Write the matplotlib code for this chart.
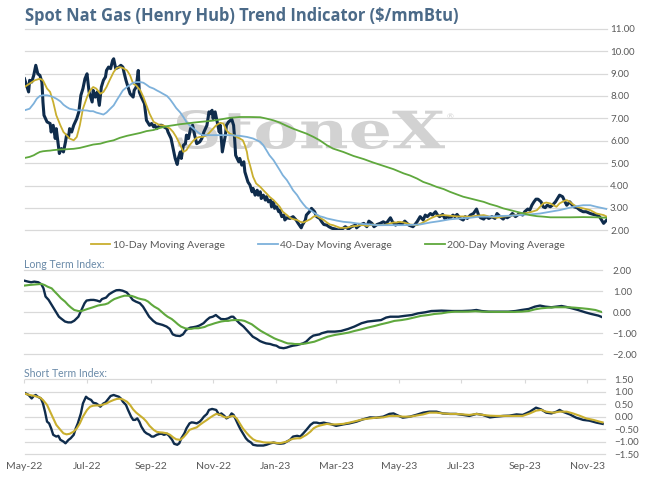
import pandas as pd
import matplotlib
matplotlib.use("Agg")
import matplotlib.pyplot as plt
import matplotlib.dates as mdates
from matplotlib.ticker import StrMethodFormatter
from matplotlib.textpath import TextPath
from matplotlib.patches import PathPatch
from matplotlib.font_manager import FontProperties
from matplotlib.transforms import Affine2D

plt.rcParams["font.family"] = ["Lato", "DejaVu Sans"]

# x values are days counted from 1 May 2022
START = pd.Timestamp("2022-05-01")

# --- top panel: spot price and moving averages ($/mmBtu) ---
spot_days = [0, 4, 5, 7, 9, 11, 13, 15, 17, 18, 19, 22, 25, 26, 28, 30, 31, 34, 36, 38,
             40, 41, 43, 44, 46, 48, 51, 53, 55, 57, 59, 61, 63, 66, 67, 69, 71, 73, 75, 77,
             79, 80, 82, 84, 86, 87, 89, 92, 94, 96, 97, 99, 101, 103, 106, 107, 109, 111, 112, 114,
             117, 119, 120, 122, 124, 126, 127, 129, 132, 134, 136, 139, 140, 143, 145, 147, 149, 150, 152, 153,
             155, 157, 158, 160, 162, 164, 166, 168, 171, 173, 175, 178, 180,
             181, 183, 184, 186, 188, 190, 191, 193, 196, 197, 199, 201, 202, 204, 205, 206, 209, 210, 212, 214,
             215, 217, 218, 220, 222, 223, 225, 227, 228, 230, 231, 233, 235, 236, 238, 240, 241, 243, 244, 246,
             248, 249, 251, 253, 254, 256, 259, 262, 265, 267, 270, 271, 274, 275, 278, 280, 283, 285, 288, 290,
             292, 295, 297, 300, 303, 306, 310, 313, 316, 319, 323, 324, 327, 331, 334, 336, 339, 341, 344, 347,
             350, 353, 357, 359, 362, 365, 368, 371, 375,
             379, 381, 383, 386, 389, 391, 393, 396, 398, 401, 403, 405, 408, 410, 413, 415, 418, 420, 422, 425,
             428, 430, 432, 435, 438, 441, 443, 445, 448, 450, 453, 456, 459, 461, 464, 467, 469, 471, 474, 476,
             479, 481, 483, 486, 488, 491, 493, 495, 497, 499, 501, 504, 506, 508, 510, 513, 515, 518, 520, 522,
             525, 527, 529, 532, 534, 536, 539, 542, 545, 548, 552, 555, 558, 561, 563, 565, 568]
spot_vals = [8.77, 8.18, 8.70, 8.62, 8.92, 9.37, 8.99, 8.92, 8.62, 7.73, 7.14, 6.84, 6.77, 6.39, 6.69, 6.10, 6.54, 5.43, 5.65, 5.50,
             5.95, 6.25, 6.17, 6.54, 6.39, 6.69, 6.99, 7.29, 8.03, 8.33, 8.77, 8.99, 8.18, 7.73, 8.25, 7.95, 8.18, 7.58, 8.40, 8.70,
             8.85, 9.14, 9.29, 9.22, 9.59, 9.66, 9.22, 9.29, 9.37, 9.29, 9.07, 8.70, 8.40, 8.10, 7.95, 8.25, 8.40, 9.14, 8.18, 7.95,
             7.66, 6.91, 6.84, 6.69, 6.77, 6.62, 6.69, 6.54, 6.69, 6.69, 6.62, 6.54, 6.39, 6.10, 5.65, 5.21, 4.94, 5.21, 5.50, 5.21,
             5.80, 5.87, 6.25, 6.10, 6.54, 6.69, 6.25, 5.87, 5.95, 6.10, 6.39, 6.69, 7.29,
             7.21, 7.36, 6.99, 7.29, 6.84, 6.39, 6.69, 5.50, 6.25, 6.69, 6.84, 6.91, 6.99, 6.69, 6.10, 5.35, 5.06, 5.21, 4.91, 5.06,
             4.61, 4.31, 4.16, 4.02, 3.72, 3.87, 3.57, 3.79, 3.57, 3.72, 3.42, 3.57, 3.35, 3.50, 3.27, 3.35, 3.05, 3.27, 2.98, 3.05,
             2.83, 2.90, 2.61, 2.68, 2.46, 2.56, 2.53, 2.61, 2.46, 2.31, 2.11, 2.23, 2.46, 2.68, 2.83, 2.98, 2.83, 2.61, 2.53, 2.38,
             2.26, 2.23, 2.16, 2.09, 2.06, 2.01, 2.06, 2.16, 2.06, 2.16, 2.23, 2.11, 2.23, 2.31, 2.16, 2.41, 2.31, 2.16, 2.26, 2.31,
             2.38, 2.31, 2.56, 2.38, 2.23, 2.35, 2.26, 2.41, 2.23,
             2.16, 2.26, 2.38, 2.61, 2.46, 2.68, 2.61, 2.75, 2.68, 2.83, 2.68, 2.61, 2.71, 2.53, 2.61, 2.53, 2.68, 2.61, 2.71, 2.53,
             2.46, 2.61, 2.53, 2.68, 2.75, 2.95, 2.68, 2.56, 2.50, 2.61, 2.53, 2.61, 2.53, 2.75, 2.61, 2.50, 2.61, 2.56, 2.65, 2.75,
             2.61, 2.68, 2.75, 2.68, 2.83, 2.95, 2.90, 3.12, 3.27, 3.39, 3.39, 3.27, 3.05, 3.01, 3.12, 3.05, 3.12, 3.27, 3.42, 3.57,
             3.50, 3.30, 3.12, 3.27, 3.15, 3.05, 3.01, 2.90, 2.83, 2.83, 2.75, 2.71, 2.68, 2.61, 2.46, 2.31, 2.46]

ma10_days = [0, 5, 10, 15, 18, 22, 25, 28, 31, 35, 38, 41, 44, 48, 51, 54, 57, 61, 64, 67,
             70, 74, 77, 80, 83, 87, 90, 93, 96, 100, 103, 106, 109, 113, 116, 119, 122, 126, 129, 132,
             135, 139, 142, 145, 148, 152, 155, 158, 161, 165, 168, 171, 174, 178, 181, 184, 187, 191, 194, 197,
             200, 204, 207, 210, 213, 215, 217, 218, 220, 223, 226, 230, 233, 236, 239, 243, 246, 249, 252, 256,
             259, 262, 266, 269, 272, 275, 279, 282, 285, 288, 292, 295, 298, 301, 305, 308, 311, 314, 318, 321,
             324, 327, 331, 334, 337, 340, 344, 347, 350, 353, 357, 360, 363, 366, 370, 373, 376, 383, 389, 396,
             402, 409, 415, 422, 428, 435, 441, 448, 454, 461, 467, 474, 480, 487, 493, 500, 503, 506, 509, 513,
             516, 519, 522, 526, 529, 532, 535, 539, 542, 545, 552, 558, 565, 568]
ma10_vals = [8.40, 8.55, 8.70, 8.77, 8.70, 8.33, 8.18, 7.73, 7.14, 6.69, 6.39, 6.25, 6.10, 6.02, 6.17, 6.69, 7.43, 7.95, 8.25, 8.40,
             8.33, 8.10, 8.18, 8.40, 8.70, 9.07, 9.25, 9.29, 9.25, 9.14, 8.92, 8.55, 8.47, 8.25, 7.95, 7.58, 7.21, 6.84, 6.77, 6.69,
             6.69, 6.62, 6.54, 6.39, 6.17, 5.80, 5.50, 5.58, 5.80, 6.02, 6.13, 6.17, 6.17, 6.25, 6.39, 6.54, 6.69, 6.80, 6.77, 6.47,
             6.32, 6.25, 6.17, 6.10, 6.02, 5.80, 5.50, 5.21, 4.91, 4.39, 4.09, 3.94, 3.79, 3.65, 3.50, 3.35, 3.20, 3.05, 2.83, 2.68,
             2.56, 2.50, 2.46, 2.38, 2.35, 2.41, 2.50, 2.61, 2.65, 2.56, 2.46, 2.35, 2.26, 2.23, 2.16, 2.11, 2.11, 2.11, 2.16, 2.19,
             2.19, 2.23, 2.23, 2.19, 2.23, 2.26, 2.23, 2.23, 2.23, 2.26, 2.31, 2.35, 2.35, 2.38, 2.35, 2.31, 2.26, 2.23, 2.35, 2.53,
             2.65, 2.68, 2.65, 2.62, 2.62, 2.61, 2.65, 2.68, 2.61, 2.56, 2.61, 2.65, 2.68, 2.75, 2.80, 2.90, 3.05, 3.20, 3.24, 3.20,
             3.12, 3.05, 3.20, 3.30, 3.35, 3.27, 3.16, 3.05, 3.01, 2.98, 2.90, 2.75, 2.68, 2.61]

ma40_days = [0, 5, 9, 12, 15, 18, 22, 25, 28, 31, 35, 38, 41, 44, 48, 51, 57, 61, 64, 67,
             70, 74, 77, 80, 83, 87, 90, 93, 96, 100, 103, 106, 109, 113, 116, 119, 122, 126, 129, 132,
             135, 139, 142, 145, 148, 152, 155, 158, 161, 165, 168, 171, 174, 181, 191, 200, 210, 217, 223, 230,
             233, 236, 239, 243, 246, 249, 252, 256, 259, 262, 266, 269, 272, 275, 279, 282, 285, 288, 292, 295,
             298, 305, 311, 318, 324, 331, 337, 344, 357, 370, 376, 386, 396, 405, 415, 425, 435, 444, 454, 464,
             474, 483, 493, 503, 513, 522, 532, 539, 545, 552, 558, 565, 568]
ma40_vals = [7.36, 7.43, 7.66, 7.88, 8.00, 8.03, 8.03, 8.00, 7.95, 7.88, 7.76, 7.61, 7.51, 7.43, 7.39, 7.36, 7.36, 7.35, 7.32, 7.32,
             7.26, 7.21, 7.17, 7.26, 7.40, 7.58, 7.81, 8.03, 8.25, 8.40, 8.50, 8.59, 8.62, 8.62, 8.59, 8.50, 8.40, 8.33, 8.25, 8.18,
             8.10, 8.00, 7.85, 7.66, 7.46, 7.26, 7.06, 6.84, 6.69, 6.54, 6.42, 6.32, 6.25, 6.25, 6.25, 6.25, 6.22, 6.17, 6.10, 5.95,
             5.80, 5.58, 5.35, 5.13, 4.91, 4.69, 4.46, 4.24, 4.02, 3.79, 3.57, 3.35, 3.17, 3.01, 2.90, 2.80, 2.71, 2.63, 2.58, 2.53,
             2.50, 2.43, 2.38, 2.35, 2.31, 2.28, 2.26, 2.23, 2.23, 2.23, 2.24, 2.26, 2.35, 2.41, 2.49, 2.53, 2.56, 2.61, 2.61, 2.64,
             2.65, 2.68, 2.71, 2.75, 2.83, 2.90, 3.01, 3.08, 3.12, 3.12, 3.05, 2.98, 2.95]

ma200_days = [0, 5, 9, 12, 15, 18, 22, 25, 28, 35, 41, 48, 54, 61, 67, 74, 80, 87, 93, 100,
              106, 113, 119, 126, 132, 139, 145, 152, 158, 165, 171, 178, 184, 191, 200, 210, 220, 230, 236, 243,
              249, 256, 262, 269, 275, 282, 288, 295, 301, 311, 321, 331, 340, 350, 360, 370, 376, 383, 389, 396,
              402, 409, 415, 422, 428, 435, 441, 448, 454, 461, 467, 474, 480, 487, 493, 500, 506, 513, 519, 532,
              545, 558, 568]
ma200_vals = [5.23, 5.28, 5.35, 5.43, 5.50, 5.53, 5.55, 5.56, 5.58, 5.61, 5.62, 5.64, 5.68, 5.76, 5.83, 5.87, 5.95, 6.02, 6.13, 6.22,
              6.28, 6.35, 6.43, 6.48, 6.57, 6.65, 6.69, 6.74, 6.77, 6.81, 6.84, 6.87, 6.90, 6.95, 7.02, 7.06, 7.06, 7.05, 6.99, 6.91,
              6.81, 6.66, 6.54, 6.42, 6.32, 6.17, 6.02, 5.80, 5.65, 5.50, 5.32, 5.18, 5.03, 4.88, 4.73, 4.54, 4.45, 4.31, 4.16, 4.05,
              3.94, 3.84, 3.72, 3.60, 3.50, 3.42, 3.35, 3.27, 3.17, 3.08, 2.98, 2.90, 2.83, 2.75, 2.68, 2.63, 2.61, 2.58, 2.58, 2.58,
              2.59, 2.58, 2.56]

# --- middle panel: long term index ---
lt_days = [0, 4, 7, 10, 14, 17, 19, 21, 24, 27, 29, 31, 34, 36, 40, 43, 46, 49, 53, 56,
           59, 61, 65, 68, 71, 74, 76, 80, 83, 87, 90, 93, 96, 100, 103, 106, 109, 113, 116, 119,
           122, 126, 129, 132, 135, 139, 142, 145, 148, 152, 155, 158, 162, 165, 168, 171, 175, 178, 181, 184,
           187, 189, 192, 196, 199, 202, 204, 207, 210, 214, 217, 220, 223, 227, 230, 233, 236, 240, 243, 246,
           249, 253, 256, 259, 262, 266, 269, 272, 275, 279, 282, 285, 288, 290, 296, 303, 309, 316, 322, 329,
           335, 342, 348, 353, 357, 365, 371, 378, 384, 391, 397, 407, 417, 427, 436, 441, 446, 453, 459, 466,
           472, 479, 485, 492, 498, 503, 508, 514, 519, 524, 529, 534, 540, 547, 553, 560, 564]
lt_vals = [1.51, 1.46, 1.43, 1.46, 1.43, 1.33, 1.14, 0.75, 0.59, 0.35, 0.19, 0.03, -0.21, -0.29, -0.44, -0.48, -0.48, -0.40, -0.21, 0.11,
           0.43, 0.56, 0.59, 0.59, 0.56, 0.51, 0.63, 0.70, 0.86, 0.98, 1.05, 1.06, 1.03, 0.95, 0.79, 0.59, 0.51, 0.43, 0.27, 0.03,
           -0.21, -0.41, -0.52, -0.56, -0.60, -0.68, -0.79, -1.05, -1.11, -1.13, -1.05, -0.84, -0.73, -0.71, -0.68, -0.63, -0.52, -0.37, -0.25, -0.21,
           -0.13, -0.21, -0.32, -0.33, -0.29, -0.21, -0.21, -0.37, -0.52, -0.68, -0.84, -1.00, -1.16, -1.27, -1.37, -1.43, -1.48, -1.51, -1.56, -1.59,
           -1.68, -1.71, -1.68, -1.63, -1.59, -1.56, -1.52, -1.48, -1.40, -1.21, -1.11, -1.08, -1.05, -1.00, -0.92, -0.92, -0.89, -0.79, -0.68, -0.52,
           -0.44, -0.40, -0.37, -0.25, -0.21, -0.21, -0.17, -0.13, -0.05, 0.00, 0.06, 0.08, 0.06, 0.06, 0.08, 0.11, 0.06, 0.03, 0.03, 0.03,
           0.03, 0.06, 0.11, 0.16, 0.27, 0.32, 0.27, 0.24, 0.27, 0.30, 0.25, 0.19, 0.11, 0.00, -0.08, -0.16, -0.24]

lt_sig_days = [0, 5, 12, 17, 20, 23, 27, 30, 33, 36, 40, 43, 46, 49, 53, 56, 59, 62, 66, 69,
               72, 75, 79, 82, 85, 88, 92, 95, 98, 101, 105, 108, 111, 114, 118, 121, 124, 127, 131, 134,
               137, 140, 144, 147, 150, 153, 157, 160, 163, 166, 170, 173, 176, 179, 183, 186, 189, 192, 196, 199,
               202, 205, 209, 212, 215, 218, 222, 225, 228, 231, 235, 238, 241, 244, 248, 251, 254, 257, 261, 264,
               267, 270, 274, 277, 280, 283, 290, 296, 303, 309, 316, 322, 329, 335, 342, 348, 355, 361, 368, 374,
               381, 387, 394, 400, 407, 413, 420, 433, 440, 446, 459, 478, 485, 492, 498, 504, 511, 517, 531, 537,
               544, 550, 557, 564]
lt_sig_vals = [1.27, 1.30, 1.33, 1.35, 1.30, 1.22, 1.14, 0.98, 0.83, 0.67, 0.51, 0.35, 0.22, 0.11, 0.06, 0.06, 0.11, 0.16, 0.22, 0.27,
               0.32, 0.35, 0.38, 0.43, 0.54, 0.63, 0.70, 0.75, 0.79, 0.79, 0.78, 0.73, 0.67, 0.63, 0.59, 0.51, 0.38, 0.27, 0.16, 0.03,
               -0.10, -0.21, -0.32, -0.44, -0.57, -0.68, -0.76, -0.79, -0.79, -0.76, -0.76, -0.73, -0.70, -0.63, -0.57, -0.52, -0.48, -0.44, -0.41, -0.41,
               -0.38, -0.37, -0.37, -0.38, -0.41, -0.48, -0.57, -0.68, -0.79, -0.89, -1.00, -1.08, -1.16, -1.24, -1.32, -1.37, -1.43, -1.48, -1.49, -1.51,
               -1.51, -1.51, -1.49, -1.46, -1.43, -1.40, -1.27, -1.16, -1.08, -1.03, -0.97, -0.89, -0.81, -0.73, -0.65, -0.57, -0.49, -0.41, -0.37, -0.32,
               -0.24, -0.17, -0.13, -0.08, -0.05, 0.00, 0.03, 0.03, 0.05, 0.03, 0.02, 0.02, 0.03, 0.06, 0.14, 0.19, 0.22, 0.24, 0.24, 0.22,
               0.19, 0.16, 0.11, 0.00]

# --- bottom panel: short term index ---
st_days = [0, 4, 7, 9, 11, 13, 16, 18, 20, 22, 24, 26, 28, 31, 33, 35, 38, 40, 43, 45,
           48, 50, 52, 55, 57, 60, 62, 65, 67, 70, 72, 74, 77, 79, 82, 84, 87, 89, 92, 94,
           96, 99, 101, 104, 106, 108, 110, 112, 114, 117, 119, 122, 124, 126, 129, 132, 134, 136, 139, 141,
           144, 146, 149, 151, 153, 156, 158, 161, 163, 165, 168, 171, 173, 175, 178, 180, 183, 185, 187, 188,
           190, 192, 195, 197, 200, 202, 204, 206, 209, 211, 214, 216, 218, 221, 223, 227, 230, 233, 236, 240,
           243, 246, 249, 253, 256, 259, 262, 266, 269, 272, 275, 279, 282, 285, 288, 292, 295, 298, 304, 311,
           317, 324, 330, 337, 343, 350, 356, 360, 363, 369, 376, 382, 389, 395, 402, 408, 415, 421, 428, 434,
           441, 447, 454, 460, 467, 473, 480, 486, 493, 499, 504, 509, 514, 519, 522, 525, 532, 538, 545, 551,
           558, 564]
st_vals = [0.96, 0.87, 0.73, 0.83, 0.87, 0.80, 0.73, 0.53, 0.20, -0.20, -0.27, -0.47, -0.73, -0.80, -0.77, -0.93, -1.00, -1.07, -0.93, -0.87,
           -0.73, -0.47, -0.27, 0.13, 0.53, 0.80, 0.73, 0.67, 0.56, 0.53, 0.47, 0.40, 0.53, 0.57, 0.73, 0.83, 0.87, 0.84, 0.80, 0.73,
           0.60, 0.47, 0.27, 0.00, -0.13, -0.13, -0.07, -0.20, -0.40, -0.60, -0.67, -0.73, -0.80, -0.80, -0.73, -0.69, -0.69, -0.73, -0.69, -0.77,
           -0.93, -1.09, -1.13, -1.07, -0.87, -0.67, -0.47, -0.27, -0.23, -0.24, -0.27, -0.20, -0.11, 0.00, 0.11, 0.27, 0.31, 0.29, 0.27, 0.20,
           0.07, 0.13, 0.03, -0.07, 0.00, 0.13, 0.07, -0.11, -0.37, -0.53, -0.73, -0.87, -0.96, -1.04, -1.13, -1.16, -1.16, -1.16, -1.13, -1.07,
           -1.04, -1.07, -1.09, -1.07, -1.00, -0.93, -0.80, -0.77, -0.80, -0.67, -0.53, -0.33, -0.24, -0.24, -0.27, -0.24, -0.27, -0.29, -0.37, -0.31,
           -0.27, -0.20, -0.11, -0.03, -0.04, 0.00, 0.11, 0.13, 0.07, -0.04, 0.00, 0.07, 0.16, 0.20, 0.20, 0.13, 0.11, 0.11, 0.07, 0.03,
           0.11, 0.07, -0.03, 0.00, 0.03, 0.04, 0.09, 0.07, 0.20, 0.36, 0.29, 0.16, 0.13, 0.20, 0.27, 0.20, 0.09, -0.04, -0.13, -0.16,
           -0.24, -0.29]

st_sig_days = [0, 5, 10, 15, 18, 22, 25, 28, 31, 35, 38, 41, 44, 48, 51, 54, 57, 61, 64, 67,
               70, 74, 77, 80, 83, 87, 90, 93, 96, 100, 103, 106, 109, 113, 116, 119, 122, 126, 129, 132,
               135, 139, 142, 145, 148, 152, 155, 158, 161, 165, 168, 171, 174, 178, 181, 184, 187, 191, 194, 197,
               200, 204, 207, 210, 213, 217, 220, 223, 226, 230, 233, 236, 243, 249, 252, 256, 259, 262, 266, 269,
               272, 275, 279, 282, 285, 288, 292, 295, 298, 304, 311, 317, 324, 330, 337, 343, 350, 356, 363, 369,
               376, 382, 389, 395, 402, 408, 415, 421, 428, 434, 441, 447, 454, 460, 473, 486, 493, 499, 504, 509,
               516, 522, 529, 535, 542, 548, 555, 561, 564]
st_sig_vals = [0.93, 0.87, 0.83, 0.77, 0.67, 0.47, 0.20, -0.07, -0.33, -0.53, -0.67, -0.71, -0.69, -0.60, -0.47, -0.27, 0.00, 0.27, 0.40, 0.44,
               0.45, 0.45, 0.49, 0.53, 0.60, 0.67, 0.71, 0.72, 0.69, 0.60, 0.47, 0.29, 0.16, 0.03, -0.07, -0.20, -0.37, -0.53, -0.61, -0.63,
               -0.64, -0.67, -0.73, -0.83, -0.91, -0.93, -0.83, -0.69, -0.53, -0.47, -0.43, -0.33, -0.24, -0.13, -0.04, 0.04, 0.11, 0.07, 0.00, -0.04,
               0.00, 0.03, -0.07, -0.27, -0.47, -0.67, -0.80, -0.91, -0.97, -1.00, -1.03, -1.04, -1.04, -1.07, -1.04, -1.00, -0.93, -0.89, -0.87, -0.87,
               -0.80, -0.73, -0.60, -0.47, -0.40, -0.36, -0.32, -0.29, -0.31, -0.31, -0.29, -0.24, -0.17, -0.11, -0.07, -0.04, -0.03, 0.03, 0.03, 0.00,
               0.00, 0.04, 0.09, 0.16, 0.16, 0.13, 0.11, 0.11, 0.09, 0.07, 0.11, 0.07, 0.04, 0.03, 0.03, 0.03, 0.13, 0.24, 0.27, 0.20,
               0.16, 0.20, 0.20, 0.13, 0.03, -0.07, -0.13, -0.20, -0.23]

legend_labels = ["10-Day Moving Average", "40-Day Moving Average", "200-Day Moving Average"]
title = "Spot Nat Gas (Henry Hub) Trend Indicator ($/mmBtu)"

NAVY = "#0F2C4C"
GOLD = "#C9AF2F"
BLUE = "#7DB1DB"
GREEN = "#5FA83D"
GRID = "#D9D9D9"
TICK = "#595959"
TITLE_C = "#4B6A88"
SUB_C = "#6A8AA8"
WM = "#D2D2D2"


def to_dates(days):
    return (START + pd.to_timedelta(days, unit="D")).to_numpy()


W, H = 653, 478
fig = plt.figure(figsize=(W / 100, H / 100), dpi=100)
fig.patch.set_facecolor("white")


def panel(left, top, right, bottom):
    return fig.add_axes([left / W, 1 - bottom / H, (right - left) / W, (bottom - top) / H])


def style(ax, yticks, pad, xmax):
    ax.set_facecolor("none")
    for s in ax.spines.values():
        s.set_visible(False)
    ax.yaxis.tick_right()
    ax.set_yticks(yticks)
    ax.set_ylim(yticks[0], yticks[-1])
    ax.yaxis.set_major_formatter(StrMethodFormatter("{x:.2f}"))
    ax.tick_params(axis="y", length=0, labelsize=7, labelcolor=TICK, pad=pad)
    ax.grid(axis="y", color=GRID, linewidth=0.9)
    ax.set_axisbelow(True)
    ax.set_xlim(to_dates([0, xmax]))
    for gl in ax.get_ygridlines():
        gl.set_clip_on(False)


ax1 = panel(24.5, 28.8, 607, 230.3)
ax2 = panel(24, 270.3, 602, 354.3)
ax3 = panel(24.5, 379.3, 605, 454)

style(ax1, [2, 3, 4, 5, 6, 7, 8, 9, 10, 11], 2.2, 568.3)
style(ax2, [-2, -1, 0, 1, 2], 7.7, 563.4)
style(ax3, [-1.5, -1.0, -0.5, 0.0, 0.5, 1.0, 1.5], 6.7, 566.3)

for ax in (ax1, ax2):
    ax.tick_params(axis="x", bottom=False, labelbottom=False)

# top panel
ax1.plot(to_dates(spot_days), spot_vals, color=NAVY, lw=2.2, zorder=2)
h10, = ax1.plot(to_dates(ma10_days), ma10_vals, color=GOLD, lw=1.3, zorder=3)
h40, = ax1.plot(to_dates(ma40_days), ma40_vals, color=BLUE, lw=1.3, zorder=3)
h200, = ax1.plot(to_dates(ma200_days), ma200_vals, color=GREEN, lw=1.3, zorder=3)

# middle and bottom panels
ax2.plot(to_dates(lt_days), lt_vals, color=NAVY, lw=1.7, zorder=2)
ax2.plot(to_dates(lt_sig_days), lt_sig_vals, color=GREEN, lw=1.5, zorder=3)
ax3.plot(to_dates(st_days), st_vals, color=NAVY, lw=1.7, zorder=2)
ax3.plot(to_dates(st_sig_days), st_sig_vals, color=GOLD, lw=1.5, zorder=3)

ax3.xaxis.set_major_locator(mdates.MonthLocator(bymonth=[1, 3, 5, 7, 9, 11]))
ax3.xaxis.set_major_formatter(mdates.DateFormatter("%b-%y"))
ax3.tick_params(axis="x", top=True, bottom=False, direction="in", length=3,
                width=0.8, color=GRID, labelsize=7.5, labelcolor=TICK, pad=6)

# watermark
fp = FontProperties(family="DejaVu Serif", weight="bold")
tp = TextPath((0, 0), "StoneX", size=100, prop=fp)
bb = tp.get_extents()
sx = (445 - 177) / bb.width
sy = (149 - 110) / bb.height
tr = (Affine2D().translate(-bb.x0, -bb.y0).scale(sx / W, sy / H)
      .translate(177 / W, 1 - 149 / H) + fig.transFigure)
ax1.add_artist(PathPatch(tp, transform=tr, facecolor=WM, edgecolor="none", zorder=1))
fig.text(447 / W, 1 - 117 / H, "\u00ae", fontsize=6, color=WM, ha="left", va="center")

# texts
fig.text(25 / W, 1 - 20.7 / H, title, fontsize=11.9, fontweight="bold", color=TITLE_C,
         ha="left", va="baseline", family=["Open Sans", "DejaVu Sans"])
fig.text(24 / W, 1 - 267.7 / H, "Long Term Index:", fontsize=7.6, color=SUB_C,
         ha="left", va="baseline")
fig.text(24 / W, 1 - 376.7 / H, "Short Term Index:", fontsize=7.6, color=SUB_C,
         ha="left", va="baseline")

fig.legend([h10, h40, h200], legend_labels, loc="center",
           bbox_to_anchor=(327.5 / W, 1 - 245.3 / H), ncol=3, frameon=False,
           fontsize=7.5, labelcolor=TICK, handlelength=1.9, handletextpad=0.2,
           columnspacing=3.2, borderpad=0)

fig.savefig("out.png", dpi=100)
